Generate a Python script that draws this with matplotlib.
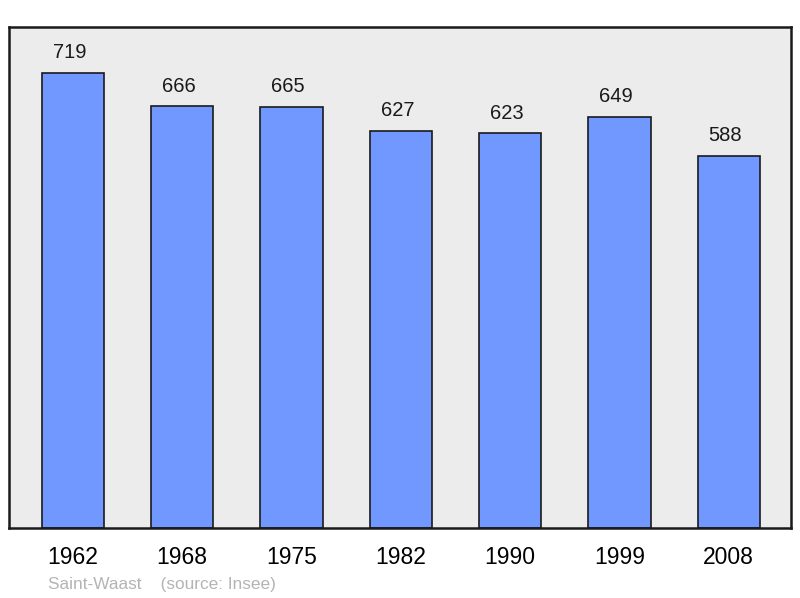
import matplotlib.pyplot as plt

years = ["1962", "1968", "1975", "1982", "1990", "1999", "2008"]
population = [719, 666, 665, 627, 623, 649, 588]
town = "Saint-Waast"
source = "(source: Insee)"

plt.rcParams['font.family'] = ['Liberation Sans', 'DejaVu Sans']

fig = plt.figure(figsize=(8, 5.98), dpi=100)
ax = fig.add_axes([9/800, 70/598, 782/800, 501/598])
ax.set_facecolor('#ececec')

x = range(len(years))
ax.bar(x, population, width=0.57, color='#7098ff', edgecolor='#1a1a1a', linewidth=1.2)
# value labels sit a bit left of the bar centre, like the original
for i, v in zip(x, population):
    ax.annotate(str(v), (i, v), xytext=(-2.5, 7.5), textcoords='offset points',
                ha='center', va='bottom', fontsize=14.5, color='#1a1a1a')

ax.set_xlim(-0.585, 6.57)
ax.set_ylim(0, max(population) * 1.1)
ax.set_yticks([])
ax.set_xticks(list(x))
ax.set_xticklabels(years, fontsize=16.5)
ax.tick_params(axis='x', length=0, pad=13)
for s in ax.spines.values():
    s.set_linewidth(1.8)
    s.set_color('#1a1a1a')

fig.text(48/800, 1 - 584/598, town + "    " + source, fontsize=12.4,
         color='#b4b4b4', va='center', ha='left')

fig.savefig('out.png', dpi=100)
